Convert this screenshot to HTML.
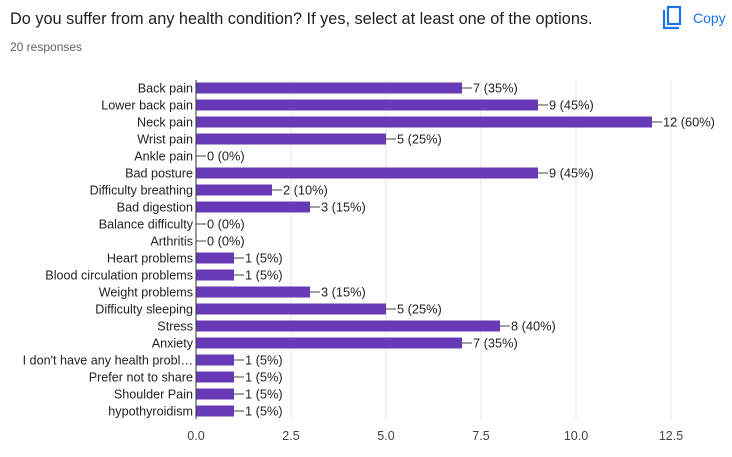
<!DOCTYPE html>
<html><head><meta charset="utf-8"><style>
body{margin:0;background:#fff;font-family:"Liberation Sans",Arial,sans-serif;}
svg text{font-family:"Liberation Sans",Arial,sans-serif;}
</style></head><body>
<svg width="732" height="452" xmlns="http://www.w3.org/2000/svg">
<text x="10" y="24" font-size="16.3" fill="#202124">Do you suffer from any health condition? If yes, select at least one of the options.</text>
<text x="10" y="51" font-size="12" fill="#5f6368">20 responses</text>
<g>
<path d="M664 10 L664 28 L679 28" fill="none" stroke="#1a73e8" stroke-width="2.2"/>
<rect x="668" y="7" width="12" height="17" fill="none" stroke="#1a73e8" stroke-width="2.2"/>
<text x="693" y="23" font-size="14" fill="#1a73e8">Copy</text>
</g>
<g id="grid"></g><g id="bars"></g><g id="ylabels"></g><g id="xticks"></g>
<line x1="196" y1="80" x2="196" y2="419" stroke="#333" stroke-width="1"/>
</svg>
<script>
const categories=["Back pain","Lower back pain","Neck pain","Wrist pain","Ankle pain","Bad posture","Difficulty breathing","Bad digestion","Balance difficulty","Arthritis","Heart problems","Blood circulation problems","Weight problems","Difficulty sleeping","Stress","Anxiety","I don't have any health probl…","Prefer not to share","Shoulder Pain","hypothyroidism"];
const values=[7,9,12,5,0,9,2,3,0,0,1,1,3,5,8,7,1,1,1,1];
const total=20;
const tickValues=[0,2.5,5,7.5,10,12.5];
const tickLabels=["0.0","2.5","5.0","7.5","10.0","12.5"];
const NS="http://www.w3.org/2000/svg";
const x=v=>196+v*38;
const y=i=>88+i*17;
function mk(t,a,p){const e=document.createElementNS(NS,t);for(const k in a)e.setAttribute(k,a[k]);document.getElementById(p).appendChild(e);return e;}
tickValues.forEach((v,i)=>{
 if(v>0){const g=mk('line',{x1:x(v),x2:x(v),y1:80,y2:419,stroke:'#e6e6e6'},'grid');
 
 }
 const t=mk('text',{x:x(v),y:440,'font-size':12.5,fill:'#444','text-anchor':'middle'},'xticks');t.textContent=tickLabels[i];
 
 
});
categories.forEach((c,i)=>{
 const cy=y(i);
 const l=mk('text',{x:193,y:cy+4.5,'font-size':12.6,fill:'#222','text-anchor':'end'},'ylabels');l.textContent=c;
 
 
 const v=values[i];
 if(v>0){const b=mk('rect',{x:196,y:cy-5.5,width:x(v)-196,height:11,fill:'#673ab7'},'bars');
 
 }
 const ln=mk('line',{x1:x(v),x2:x(v)+10,y1:cy,y2:cy,stroke:'#444'},'bars');
 
 
 const t=mk('text',{x:x(v)+11,y:cy+4.5,'font-size':12.8,fill:'#222'},'bars');
 t.textContent=v+' ('+Math.round(v/total*100)+'%)';
 
 
});
</script>
</body></html>
